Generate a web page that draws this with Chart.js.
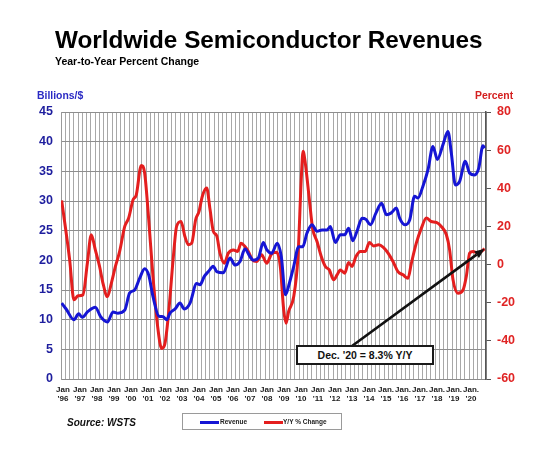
<!DOCTYPE html>
<html>
<head>
<meta charset="utf-8">
<script src="https://cdn.jsdelivr.net/npm/chart.js@4.4.1/dist/chart.umd.min.js"></script>
<style>
  body { margin: 0; background: #fff; font-family: "Liberation Sans", Arial, sans-serif; }
  #wrap { position: relative; width: 555px; height: 449px; overflow: hidden; background: #fff; }
  #myChart { position: absolute; left: 0; top: 0; }
  .txt { position: absolute; white-space: nowrap; font-weight: bold; line-height: 1; }
  #title { left: 55px; top: 28px; font-size: 24.3px; color: #000; }
  #subtitle { left: 55px; top: 56px; font-size: 10.5px; color: #000; }
  #leftTitle { left: 37px; top: 91px; font-size: 10.4px; color: #2b2bc4; }
  #rightTitle { left: 475px; top: 90.5px; font-size: 10.4px; color: #d42020; }
  #source { left: 67px; top: 418px; font-size: 10px; font-style: italic; color: #111; }
  #legend { position: absolute; left: 182px; top: 413px; width: 160px; height: 17px; border: 1px solid #9a9a9a; box-sizing: border-box; background: #fff; }
  .lg { position: absolute; top: 4.5px; font-size: 6.5px; font-weight: bold; color: #222; line-height: 1; white-space: nowrap; }
  .sw { position: absolute; top: 7px; width: 19px; height: 2.5px; }
  #note { position: absolute; left: 296px; top: 345px; width: 138px; height: 20px; border: 2px solid #1a1a1a; box-sizing: border-box; background: #fff;
          font-size: 10.5px; font-weight: bold; text-align: center; line-height: 16px; color: #111; }
</style>
</head>
<body>
<div id="wrap">
  <canvas id="myChart" width="555" height="449"></canvas>
  <div class="txt" id="title">Worldwide Semiconductor Revenues</div>
  <div class="txt" id="subtitle">Year-to-Year Percent Change</div>
  <div class="txt" id="leftTitle">Billions/$</div>
  <div class="txt" id="rightTitle">Percent</div>
  <div class="txt" id="source">Source: WSTS</div>
  <div id="legend">
    <div class="sw" style="left:17px;background:#1515d4"></div>
    <div class="lg" style="left:37px">Revenue</div>
    <div class="sw" style="left:81px;background:#e41e1e"></div>
    <div class="lg" style="left:100px">Y/Y % Change</div>
  </div>
  <div id="note">Dec. '20 = 8.3% Y/Y</div>
</div>
<script>
// monthly revenue, billions of dollars
var revDates = [1996.04, 1996.3, 1996.76, 1997.04, 1997.24, 1997.59, 1998.02, 1998.33, 1998.73, 1999.06, 1999.35, 1999.75,
  2000.04, 2000.33, 2000.63, 2000.92, 2001.16, 2001.41, 2001.75, 2002.0, 2002.22, 2002.41, 2002.71, 2003.0, 2003.25, 2003.59,
  2003.98, 2004.18, 2004.43, 2004.67, 2004.96, 2005.16, 2005.55, 2005.94, 2006.24, 2006.53, 2006.82, 2007.12, 2007.31, 2007.61,
  2007.9, 2008.1, 2008.39, 2008.72, 2008.96, 2009.2, 2009.43, 2009.69, 2009.98, 2010.22, 2010.47, 2010.76, 2011.06, 2011.35,
  2011.65, 2011.84, 2012.14, 2012.43, 2012.69, 2012.92, 2013.16, 2013.41, 2013.71, 2013.94, 2014.2, 2014.53, 2014.86, 2015.14,
  2015.43, 2015.73, 2015.92, 2016.22, 2016.51, 2016.8, 2017.0, 2017.29, 2017.59, 2017.88, 2018.14, 2018.47, 2018.76, 2018.96,
  2019.2, 2019.45, 2019.78, 2020.04, 2020.33, 2020.57, 2020.82, 2020.92];
var revValues = [12.8, 11.8, 10.0, 11.0, 10.4, 11.4, 12.1, 10.5, 9.6, 11.3, 11.1, 11.6,
  14.5, 15.0, 17.0, 18.6, 17.5, 13.9, 10.6, 10.5, 10.0, 11.1, 11.8, 12.8, 11.8, 12.8,
  16.1, 15.9, 17.3, 18.1, 19.0, 18.1, 17.9, 20.4, 19.2, 19.8, 21.9, 20.6, 20.0, 20.4,
  23.0, 21.8, 21.2, 22.9, 20.6, 14.2, 16.1, 19.0, 22.3, 22.3, 24.6, 26.0, 24.9, 25.1,
  25.1, 25.7, 23.0, 24.3, 24.3, 25.4, 23.3, 24.9, 27.1, 26.9, 26.0, 28.0, 29.6, 27.7,
  28.0, 28.8, 27.1, 26.0, 26.8, 30.8, 30.5, 32.5, 35.3, 39.2, 37.0, 39.5, 41.7, 38.1,
  32.7, 33.3, 36.7, 34.7, 34.4, 35.5, 39.3, 38.9];

// year-to-year percent change
var pctDates = [1996.04, 1996.51, 1996.76, 1997.0, 1997.29, 1997.55, 1997.78, 1998.02, 1998.27, 1998.47, 1998.73, 1998.96,
  1999.2, 1999.45, 1999.75, 1999.98, 2000.24, 2000.43, 2000.72, 2000.92, 2001.16, 2001.41, 2001.71, 2001.92, 2002.1,
  2002.31, 2002.61, 2002.8, 2003.06, 2003.29, 2003.49, 2003.69, 2003.92, 2004.12, 2004.31, 2004.57, 2004.77, 2004.96,
  2005.16, 2005.35, 2005.61, 2005.84, 2006.14, 2006.39, 2006.59, 2006.82, 2007.02, 2007.25, 2007.51, 2007.8, 2008.1,
  2008.39, 2008.69, 2008.9, 2009.1, 2009.24, 2009.39, 2009.69, 2009.94, 2010.14, 2010.24, 2010.37, 2010.61, 2010.8,
  2011.06, 2011.31, 2011.55, 2011.78, 2012.04, 2012.24, 2012.43, 2012.69, 2012.92, 2013.12, 2013.35, 2013.61, 2013.9,
  2014.14, 2014.39, 2014.69, 2014.96, 2015.24, 2015.53, 2015.82, 2016.12, 2016.41, 2016.61, 2016.9, 2017.2, 2017.49,
  2017.78, 2018.08, 2018.37, 2018.67, 2018.86, 2019.06, 2019.35, 2019.65, 2019.84, 2020.04, 2020.24, 2020.53, 2020.92];
var pctValues = [33.6, 2.5, -18.5, -16.4, -15.9, 0.7, 15.6, 7.7, -1, -9.8, -16.8, -9.8,
  -1, 6.9, 20, 24.4, 34, 36.6, 52, 48, 23.5, -6.3, -34.3, -44, -42,
  -27.3, 4.2, 20, 22.6, 14.7, 10.4, 11.2, 23.5, 27.9, 35.7, 40.1, 28.7, 17.4,
  15.1, 6, 0.7, 6, 7.7, 6.9, 11.2, 9.5, 6.9, 2.5, 1.6, 5.1, 0.7,
  5.6, 6.5, -1, -23.8, -30.8, -24.6, -16.8, 4.2, 46.2, 59.4, 53.2, 34, 19.1,
  12.1, 4.2, -1, -2.8, -8, -5.4, -2.8, -4.5, 1.1, -1, 4.2, 6.9, 6.9,
  11.6, 9.8, 10.4, 9, 6, 1.6, -3.7, -5.4, -7.2, 0.7, 11.2, 19.1, 24.4,
  22.6, 22.1, 20, 15.6, 7.7, -8, -15, -13.3, -6.3, 6, 6.9, 6, 8.3];

var yearLabels = ['96', '97', '98', '99', '00', '01', '02', '03', '04', '05', '06', '07', '08', '09',
  '10', '11', '12', '13', '14', '15', '16', '17', '18', '19', '20'];
var dotFrom = 2015; // labels from here on read "Jan."

var revPoints = revDates.map(function (d, i) { return { x: d, y: revValues[i] }; });
var pctPoints = pctDates.map(function (d, i) { return { x: d, y: pctValues[i] }; });

// arrow from the note box to the last Y/Y point
var arrowPlugin = {
  id: 'arrowNote',
  afterDatasetsDraw: function (chart) {
    var ctx = chart.ctx;
    var tx = chart.scales.x.getPixelForValue(pctDates[pctDates.length - 1]);
    var ty = chart.scales.y2.getPixelForValue(pctValues[pctValues.length - 1]);
    var sx = 352, sy = 346;
    var ang = Math.atan2(ty - sy, tx - sx);
    var hl = 10, hw = 4;
    var bx = tx - hl * Math.cos(ang), by = ty - hl * Math.sin(ang);
    ctx.save();
    ctx.strokeStyle = '#111';
    ctx.fillStyle = '#111';
    ctx.lineWidth = 2.6;
    ctx.beginPath();
    ctx.moveTo(sx, sy);
    ctx.lineTo(bx, by);
    ctx.stroke();
    ctx.beginPath();
    ctx.moveTo(tx, ty);
    ctx.lineTo(bx + hw * Math.sin(ang), by - hw * Math.cos(ang));
    ctx.lineTo(bx - hw * Math.sin(ang), by + hw * Math.cos(ang));
    ctx.closePath();
    ctx.fill();
    ctx.restore();
  }
};

var options = {
  type: 'line',
  data: {
    datasets: [{
      label: 'Revenue',
      data: revPoints,
      yAxisID: 'y',
      borderColor: '#1515d4',
      borderWidth: 3,
      pointRadius: 0,
      cubicInterpolationMode: 'monotone'
    }, {
      label: 'Y/Y % Change',
      data: pctPoints,
      yAxisID: 'y2',
      borderColor: '#e41e1e',
      borderWidth: 3,
      pointRadius: 0,
      cubicInterpolationMode: 'monotone'
    }]
  },
  options: {
    responsive: false,
    animation: false,
    layout: { padding: { left: 31, right: 0, top: 112, bottom: 30 } },
    plugins: {
      legend: { display: false },
      tooltip: { enabled: false }
    },
    scales: {
      x: {
        type: 'linear',
        min: 1996,
        max: 2021,
        afterBuildTicks: function (scale) {
          var t = [];
          for (var q = 0; q <= 100; q++) t.push({ value: 1996 + q / 4 });
          scale.ticks = t;
        },
        afterFit: function (scale) { scale.height = 40; },
        grid: { color: '#a8a8a8', lineWidth: 1, drawTicks: false },
        border: { color: '#8c8c8c' },
        ticks: {
          autoSkip: false,
          maxRotation: 0,
          minRotation: 0,
          padding: 6,
          labelOffset: 2,
          color: '#1a1a1a',
          font: { family: 'Liberation Sans', size: 8, weight: 'bold', lineHeight: 1.15 },
          callback: function (value) {
            var yr = Math.round(value * 4) / 4;
            if (yr % 1 !== 0 || yr > 2020) return '';
            var word = yr >= dotFrom ? 'Jan.' : 'Jan';
            return [word, "'" + yearLabels[yr - 1996]];
          }
        }
      },
      y: {
        position: 'left',
        min: 0,
        max: 45,
        afterFit: function (scale) { scale.width = 30; },
        grid: { color: '#8e8e8e', lineWidth: 1, drawTicks: false },
        border: { color: '#9a9a9a' },
        ticks: {
          stepSize: 5,
          padding: 8,
          color: '#1e1e9e',
          font: { family: 'Liberation Sans', size: 12.5, weight: 'bold' }
        }
      },
      y2: {
        position: 'right',
        min: -60,
        max: 80,
        afterFit: function (scale) { scale.width = 69; },
        grid: { drawOnChartArea: false, drawTicks: true, tickLength: 5, color: '#555' },
        border: { color: '#555', width: 1.5 },
        ticks: {
          stepSize: 20,
          padding: 6,
          color: '#e02424',
          font: { family: 'Liberation Sans', size: 12.5, weight: 'bold' }
        }
      }
    }
  },
  plugins: [arrowPlugin]
};

var ctx = document.getElementById('myChart');
var chart = new Chart(ctx, options);
</script>
</body>
</html>
